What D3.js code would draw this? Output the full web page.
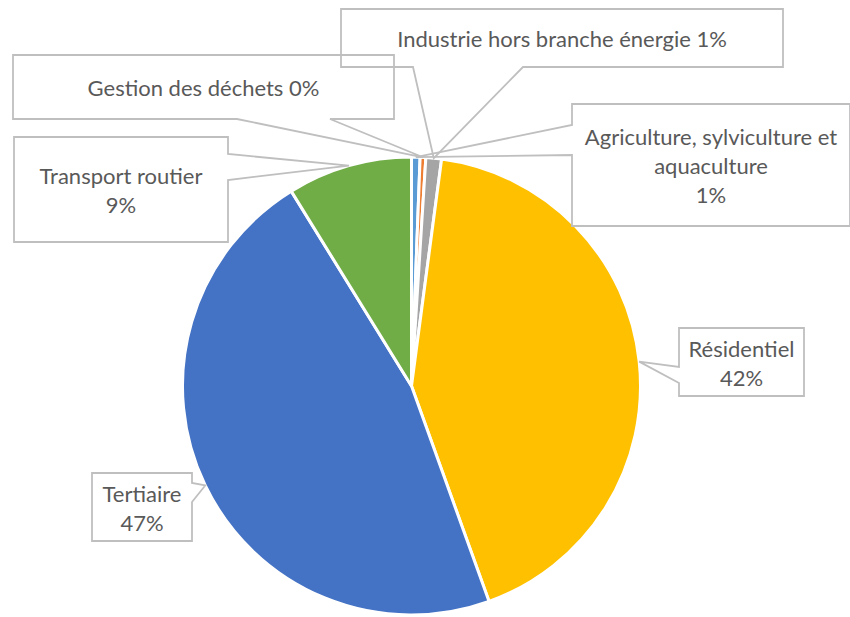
<!DOCTYPE html>
<html>
<head>
<meta charset="utf-8">
<script src="https://cdn.jsdelivr.net/npm/d3@7"></script>
<style>
  body { margin: 0; background: #fff; }
  text { font-family: Lato, "Open Sans", sans-serif; fill: #595959; }
</style>
</head>
<body>
<svg id="pie-chart"></svg>
<script>
// Data (clockwise from 12 o'clock)
const categories = [
    "Agriculture, sylviculture et aquaculture",
    "Gestion des déchets",
    "Industrie hors branche énergie",
    "Résidentiel",
    "Tertiaire",
    "Transport routier"
];
const values = [0.6, 0.4, 1.1, 42.4, 46.7, 8.8];
const colors = ["#5B9BD5", "#ED7D31", "#A5A5A5", "#FFC000", "#4472C4", "#70AD47"];

// Chart size
const width = 850;
const height = 617;
const cx = 411.5, cy = 386;
const radius = 229;

// Callout boxes: where each label sits and which edge its pointer leaves from
const callouts = [
    { x: 572, y: 104, w: 278, h: 122, side: "left", p1: 125, p2: 155, lines: 3 },
    { x: 13, y: 55, w: 381, h: 64, side: "bottom", p1: 237, p2: 330, lines: 1 },
    { x: 341, y: 9, w: 442, h: 58, side: "bottom", p1: 413, p2: 523, lines: 1 },
    { x: 679, y: 328, w: 125, h: 68, side: "left", p1: 367, p2: 383, lines: 2 },
    { x: 92, y: 473, w: 100, h: 68, side: "right", p1: 483, p2: 502, lines: 2 },
    { x: 14, y: 137, w: 214, h: 105, side: "right", p1: 154, p2: 180, lines: 2 }
];
const lineHeight = 29;

const svg = d3.select("#pie-chart")
    .attr("width", width)
    .attr("height", height);

const total = d3.sum(values);
const data = categories.map((c, i) => ({ name: c, value: values[i], color: colors[i] }));

const pie = d3.pie()
    .value(d => d.value)
    .sort(null);

const arc = d3.arc()
    .innerRadius(0)
    .outerRadius(radius);

const edgeArc = d3.arc()
    .innerRadius(radius)
    .outerRadius(radius);

const arcs = pie(data);

const g = svg.append("g")
    .attr("transform", `translate(${cx}, ${cy})`);

g.selectAll("path")
    .data(arcs)
    .enter()
    .append("path")
    .attr("d", arc)
    .attr("fill", d => d.data.color)
    .attr("stroke", "#fff")
    .attr("stroke-width", 3)
    .attr("stroke-linejoin", "round");

// build the callout outline with its pointer
function calloutPath(c, tip) {
    const { x, y, w, h, side, p1, p2 } = c;
    const pts = [[x, y]];
    if (side === "top") pts.push([p1, y], tip, [p2, y]);
    pts.push([x + w, y]);
    if (side === "right") pts.push([x + w, p1], tip, [x + w, p2]);
    pts.push([x + w, y + h]);
    if (side === "bottom") pts.push([p2, y + h], tip, [p1, y + h]);
    pts.push([x, y + h]);
    if (side === "left") pts.push([x, p2], tip, [x, p1]);
    return d3.line()(pts) + "Z";
}

function labelLines(d, n) {
    const pct = Math.round(d.data.value / total * 100) + "%";
    if (n === 1) return [d.data.name + " " + pct];
    if (n === 2) return [d.data.name, pct];
    const words = d.data.name.split(" ");
    return [words.slice(0, -1).join(" "), words[words.length - 1], pct];
}

const labels = arcs.map((d, i) => {
    const c = edgeArc.centroid(d);
    return { d, c: callouts[i], tip: [c[0] + cx, c[1] + cy] };
});

const boxes = svg.append("g");

// fills first so every outline stays visible
boxes.selectAll("path.fill")
    .data(labels)
    .enter()
    .append("path")
    .attr("class", "fill")
    .attr("d", l => calloutPath(l.c, l.tip))
    .attr("fill", "#fff");

boxes.selectAll("path.outline")
    .data(labels)
    .enter()
    .append("path")
    .attr("class", "outline")
    .attr("d", l => calloutPath(l.c, l.tip))
    .attr("fill", "none")
    .attr("stroke", "#BFBFBF")
    .attr("stroke-width", 1.8);

labels.forEach(l => {
    const lines = labelLines(l.d, l.c.lines);
    const midX = l.c.x + l.c.w / 2;
    const midY = l.c.y + l.c.h / 2;
    const n = lines.length;
    svg.append("text")
        .attr("text-anchor", "middle")
        .attr("font-size", 22)
        .selectAll("tspan")
        .data(lines)
        .enter()
        .append("tspan")
        .attr("x", midX)
        .attr("y", (t, j) => midY + (j - (n - 1) / 2) * lineHeight + 9)
        .text(t => t);
});
</script>
</body>
</html>
